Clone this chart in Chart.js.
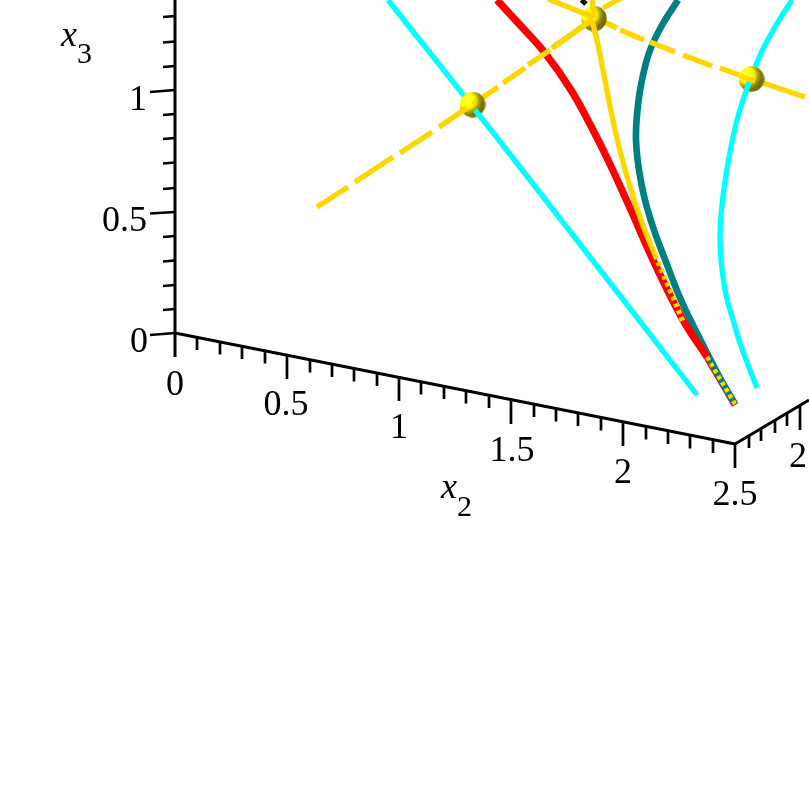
<!DOCTYPE html>
<html lang="en">
<head>
    <meta charset="UTF-8">
    <title>x2 x3 projection</title>
    <script src="https://cdn.jsdelivr.net/npm/chart.js"></script>
    <style>
        * { margin: 0; padding: 0; }
        body { background: #fff; }
        canvas { display: block; }
    </style>
</head>
<body>
    <canvas id="chart" width="809" height="809"></canvas>
    <script>
        const x2AxisX = [175, 735];
        const x2AxisY = [333, 444];
        const x1AxisX = [735, 809];
        const x1AxisY = [444, 400];
        const x3AxisX = [175, 175];
        const x3AxisY = [0, 357];

        // ticks on the x2 axis, every 0.1
        const x2TickX = [197, 220, 242, 265, 287, 310, 332, 354, 377, 399, 421, 444, 466, 489, 511, 534, 556, 578, 601, 623, 646, 668, 690, 713, 735];
        const x2TickTop = [337.5, 342, 346.5, 351, 355.5, 360, 364.5, 369, 373.5, 377, 382, 386.5, 391, 395.5, 400, 404.5, 409, 413.5, 418, 422.5, 427, 431.5, 436, 440.5, 444];
        const x2TickEnd = [350, 354.5, 359, 363.5, 379, 372.5, 377, 381.5, 386, 401, 394.5, 399, 403.5, 408, 424, 417, 421.5, 426, 430.5, 446, 439.5, 444, 448.5, 453, 468];

        // ticks on the x1 axis
        const x1TickX = [749, 761, 775, 787, 800];
        const x1TickTop = [436, 428.5, 420.5, 413, 405];
        const x1TickEnd = [448, 441, 433, 426, 430];

        // ticks on the x3 axis, every 0.1 from 0 to 1.3
        const x3TickEndX = [150, 163, 163, 163, 163, 150, 163, 163, 163, 163, 150, 163, 163, 163];
        const x3TickRightX = [175, 175, 175, 175, 175, 175, 175, 175, 175, 175, 175, 175, 175, 175];
        const x3TickRightY = [333, 309, 285, 260.5, 236, 212, 188, 162.5, 138, 114, 90, 66, 41.5, 16];
        const x3TickLeftY = [335, 310, 286, 261.5, 237, 213.5, 189, 163.5, 139, 115, 92, 67, 42.5, 17];

        const cyanLeftX = [388, 438, 465];
        const cyanLeftY = [0, 63, 97];
        const cyanLeftLowX = [475, 491, 618, 697];
        const cyanLeftLowY = [110, 130, 293, 395];
        const cyanRightX = [792, 778, 764, 755];
        const cyanRightY = [0, 22, 47, 67];
        const cyanRightLowX = [751, 744, 735, 726, 721, 720, 721.5, 726, 733, 740, 748, 757];
        const cyanRightLowY = [78, 97, 128, 175, 215, 240, 265, 295, 320, 343, 365, 388];

        const tealX = [678, 661, 649, 641, 637, 636, 639, 645, 654, 666, 681, 702, 720, 735];
        const tealY = [0, 27, 53, 85, 115, 140, 170, 200, 230, 262, 300, 343, 378, 404];

        const redX = [497, 520, 545, 571, 593, 608, 630, 653, 683, 707];
        const redY = [0, 25, 53, 90, 130, 160, 208, 260, 320, 357];
        const redLowX = [707, 735];
        const redLowY = [357, 405];

        const goldCurveX = [592, 598, 615, 628, 642, 655];
        const goldCurveY = [20, 45, 130, 180, 223, 255];
        const goldDotsMidX = [655, 672, 683];
        const goldDotsMidY = [255, 295, 322];
        const goldDotsLowX = [707, 735];
        const goldDotsLowY = [357, 404];

        const blackX = [581.5, 586];
        const blackY = [0, 4];

        // gold dashed straight lines, null = gap between dashes
        const dashBehindX = [482, 498, null, 503, 525, null, 528, 550, null, 552, 592, null, 603, 623, null, 602, 617, null, 620, 644, null, 650, 675, null, 683, 712, null, 720, 745, null, 763, 805];
        const dashBehindY = [98, 87, null, 83, 68, null, 65, 50, null, 48, 20, null, 8, -3, null, 21, 28, null, 30, 40, null, 42, 52, null, 55, 66, null, 68, 77, null, 83, 97];
        const dashFrontX = [317, 348, null, 355, 393, null, 400, 432, null, 439, 467, null, 473, 476, null, 548, 593, null, 592, 594, null, 552, 593, null, 740, 755];
        const dashFrontY = [207, 187, null, 182, 157, null, 153, 132, null, 127, 108, null, 101, 103, null, -1, 17, null, 0, 18, null, 48, 19, null, 76, 81];

        const sphereX = [472.5, 594, 751.5];
        const sphereY = [104.5, 18.5, 79];

        const labelText = ['0', '0.5', '1', '0', '0.5', '1', '1.5', '2', '2.5', '2'];
        const labelX = [148, 147, 147, 175, 286, 399, 512, 623, 735, 798];
        const labelY = [352, 231, 110, 395, 415, 438, 461, 483, 505, 467];
        const labelAlign = ['right', 'right', 'right', 'center', 'center', 'center', 'center', 'center', 'center', 'center'];

        const titleText = ['x', '3', 'x', '2'];
        const titleX = [61, 77, 441, 457];
        const titleY = [46, 63, 498, 516];
        const titleFont = ['italic 36px', '30px', 'italic 36px', '30px'];

        const CYAN = '#00ffff', RED = '#ff0000', TEAL = '#008080', GOLD = '#ffd700', BLACK = '#000000';

        function zip(xs, ys) {
            return xs.map((x, i) => ({ x: x, y: ys[i] }));
        }

        function ticks(xa, ya, xb, yb) {
            const pts = [];
            xa.forEach((x, i) => {
                pts.push({ x: x, y: ya[i] }, { x: xb[i], y: yb[i] }, { x: null, y: null });
            });
            return pts;
        }

        // later calls are painted on top
        const datasets = [];
        function addLine(data, color, width, tension, dash) {
            datasets.push({
                data: data,
                borderColor: color,
                borderWidth: width,
                tension: tension,
                borderDash: dash || [],
                borderCapStyle: 'butt',
                pointRadius: 0,
                showLine: true,
                spanGaps: false,
                order: -datasets.length
            });
        }

        function makeSphere() {
            const c = document.createElement('canvas');
            c.width = c.height = 26;
            const g = c.getContext('2d');
            const grad = g.createRadialGradient(8, 9, 1, 8, 9, 18);
            grad.addColorStop(0, '#ffff30');
            grad.addColorStop(0.38, '#ffff00');
            grad.addColorStop(0.62, '#a89f00');
            grad.addColorStop(0.8, '#807800');
            grad.addColorStop(1, '#706800');
            g.fillStyle = grad;
            g.beginPath();
            g.arc(13, 13, 12.7, 0, Math.PI * 2);
            g.fill();
            return c;
        }

        // behind the spheres
        addLine(zip(redLowX, redLowY), RED, 7, 0);
        addLine(zip(tealX, tealY), TEAL, 6.7, 0.4);
        addLine(zip(redX, redY), RED, 7.3, 0.4);
        addLine(zip(goldCurveX, goldCurveY), GOLD, 5.3, 0.4);
        addLine(zip(goldDotsMidX, goldDotsMidY), GOLD, 5.3, 0.4, [4, 3.5]);
        addLine(zip(goldDotsLowX, goldDotsLowY), GOLD, 4.5, 0, [4, 3.3]);
        addLine(zip(cyanLeftX, cyanLeftY), CYAN, 5.3, 0);
        addLine(zip(cyanRightX, cyanRightY), CYAN, 5.3, 0.4);
        addLine(zip(blackX, blackY), BLACK, 5, 0);
        addLine(zip(dashBehindX, dashBehindY), GOLD, 5.3, 0);

        datasets.push({
            data: zip(sphereX, sphereY),
            pointStyle: makeSphere(),
            showLine: false,
            order: -datasets.length
        });

        // in front of the spheres
        addLine(zip(cyanLeftLowX, cyanLeftLowY), CYAN, 5.3, 0);
        addLine(zip(cyanRightLowX, cyanRightLowY), CYAN, 5.3, 0.4);
        addLine(zip(dashFrontX, dashFrontY), GOLD, 5.3, 0);
        addLine(zip(goldCurveX.slice(0, 2), goldCurveY.slice(0, 2)), GOLD, 5.3, 0);

        addLine(zip(x2AxisX, x2AxisY), BLACK, 3, 0);
        addLine(zip(x1AxisX, x1AxisY), BLACK, 3, 0);
        addLine(zip(x3AxisX, x3AxisY), BLACK, 3, 0);
        addLine(ticks(x2TickX, x2TickTop, x2TickX, x2TickEnd), BLACK, 2.7, 0);
        addLine(ticks(x1TickX, x1TickTop, x1TickX, x1TickEnd), BLACK, 2.7, 0);
        addLine(ticks(x3TickRightX, x3TickRightY, x3TickEndX, x3TickLeftY), BLACK, 2.7, 0);

        const textPlugin = {
            id: 'axisText',
            afterDraw(chart) {
                const ctx = chart.ctx, sx = chart.scales.x, sy = chart.scales.y;
                ctx.save();
                ctx.fillStyle = '#000';
                ctx.textBaseline = 'alphabetic';
                ctx.font = '36px "Liberation Serif"';
                labelText.forEach((t, i) => {
                    ctx.textAlign = labelAlign[i];
                    ctx.fillText(t, sx.getPixelForValue(labelX[i]), sy.getPixelForValue(labelY[i]));
                });
                ctx.textAlign = 'left';
                titleText.forEach((t, i) => {
                    ctx.font = titleFont[i] + ' "Liberation Serif"';
                    ctx.fillText(t, sx.getPixelForValue(titleX[i]), sy.getPixelForValue(titleY[i]));
                });
                ctx.restore();
            }
        };

        new Chart(document.getElementById('chart'), {
            type: 'scatter',
            data: { datasets: datasets },
            plugins: [textPlugin],
            options: {
                responsive: false,
                animation: false,
                layout: { padding: 0, autoPadding: false },
                plugins: { legend: { display: false }, tooltip: { enabled: false } },
                scales: {
                    x: { type: 'linear', display: false, min: 0, max: 809 },
                    y: { type: 'linear', display: false, min: 0, max: 809, reverse: true }
                }
            }
        });
    </script>
</body>
</html>
